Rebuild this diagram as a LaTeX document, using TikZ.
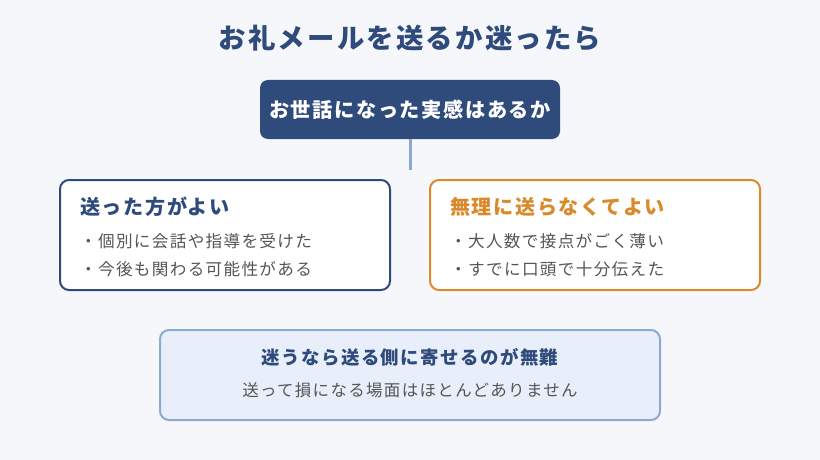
\documentclass[tikz,border=0pt]{standalone}
\usepackage{fontspec}
\setmainfont{Noto Sans CJK JP}
\newfontfamily\jp[LetterSpace=8]{Noto Sans CJK JP}
\usetikzlibrary{positioning}
\definecolor{pageBg}{HTML}{F5F7FB}
\definecolor{navyBlue}{HTML}{2F4B7C}
\definecolor{adviceOrange}{HTML}{D98A2B}
\definecolor{lineBlue}{HTML}{8FA8D0}
\definecolor{noteFill}{HTML}{E9EFFA}
\definecolor{bodyGray}{HTML}{555555}

\begin{document}
\begin{tikzpicture}[x=1pt, y=-1pt,
  every node/.style={inner sep=0pt},
  question/.style={fill=navyBlue, rounded corners=8pt, text=white,
                   minimum width=300pt, minimum height=59pt,
                   font=\jp\fontsize{20.2}{24}\selectfont\bfseries},
  card/.style={draw, line width=2pt, fill=white, rounded corners=9pt,
               minimum width=330pt, minimum height=110pt},
  cardtitle/.style={anchor=west, font=\jp\fontsize{20.1}{24}\selectfont\bfseries},
  bullet/.style={anchor=west, text=bodyGray, font=\jp\fontsize{16.6}{20}\selectfont},
  note/.style={draw=lineBlue, line width=2pt, fill=noteFill, rounded corners=9pt,
               minimum width=500pt, minimum height=90pt},
]
% Background
\fill[pageBg] (0,0) rectangle (820,460);
\useasboundingbox (0,0) rectangle (820,460);

% Title
\node[text=navyBlue, font=\jp\fontsize{27.4}{32}\selectfont\bfseries] (title) at (410,38)
  {お礼メールを送るか迷ったら};

% Question
\node[question] (root) at (410,109.5) {お世話になった実感はあるか};
\coordinate (rootEnd) at (410,170);
\draw[lineBlue, line width=3pt] (root.south) -- (rootEnd);

% Left card
\node[card, draw=navyBlue] (sendBox) at (225,235) {};
\node[cardtitle, text=navyBlue] (sendT) at (80,207) {送った方がよい};
\node[bullet] (sendA) at (80,241) {・個別に会話や指導を受けた};
\node[bullet] (sendB) at (80,269) {・今後も関わる可能性がある};

% Right card
\node[card, draw=adviceOrange] (skipBox) at (595,235) {};
\node[cardtitle, text=adviceOrange] (skipT) at (450,207) {無理に送らなくてよい};
\node[bullet] (skipA) at (450,241) {・大人数で接点がごく薄い};
\node[bullet] (skipB) at (450,269) {・すでに口頭で十分伝えた};

% Bottom note
\node[note] (tipBox) at (410,375) {};
\node[text=navyBlue, font=\jp\fontsize{18.4}{22}\selectfont\bfseries] (tipT) at (410,357)
  {迷うなら送る側に寄せるのが無難};
\node[text=bodyGray, font=\jp\fontsize{16.5}{20}\selectfont] (tipB) at (410,390)
  {送って損になる場面はほとんどありません};

\end{tikzpicture}
\end{document}
